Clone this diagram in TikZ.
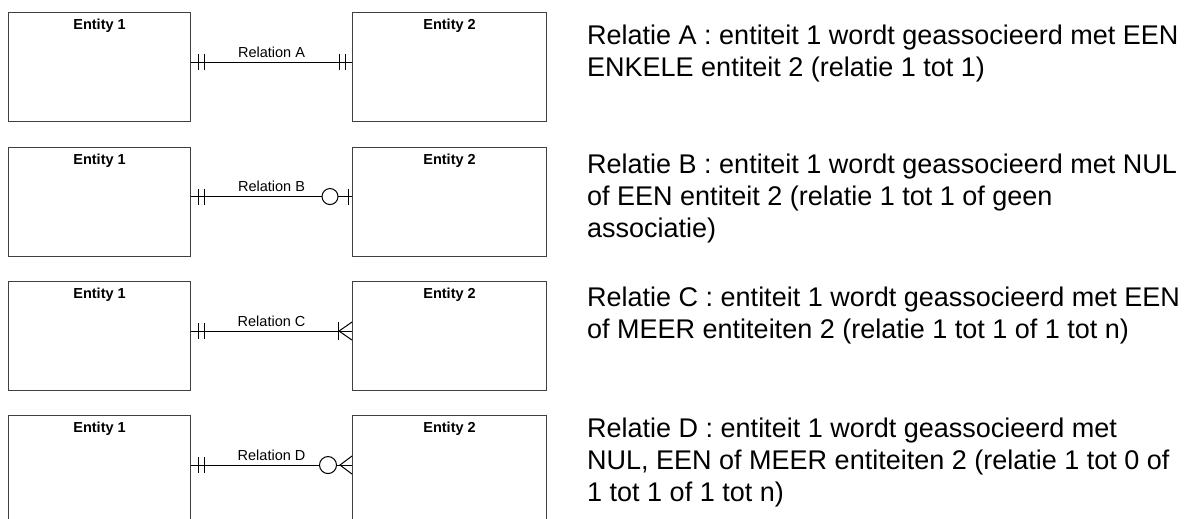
\documentclass[tikz,border=0pt]{standalone}
\usepackage{fontspec}
\setmainfont{Liberation Sans}
\usetikzlibrary{positioning}

\tikzset{
  entity/.style={draw=black!75, line width=1.1pt, minimum height=109pt, inner sep=0pt, anchor=north west},
  enttitle/.style={font=\bfseries\fontsize{14.5}{17}\selectfont, anchor=base, inner sep=0pt},
  rel/.style={line width=1pt},
  rellabel/.style={font=\fontsize{14.5}{17}\selectfont, anchor=base, inner sep=0pt, yshift=5pt},
  desc/.style={font=\fontsize{27}{32}\selectfont, align=left, anchor=north west, inner sep=0pt}
}

\begin{document}
\begin{tikzpicture}[x=1pt,y=-1pt]
    \useasboundingbox (0,0) rectangle (1189,519);
    \clip (0,0) rectangle (1189,519);

    % Entities, connectors and relation labels
    \foreach \r/\yt in {A/12,B/146.5,C/281,D/415} {
        \node[entity, minimum width=182pt] (e1\r) at (8,\yt) {};
        \node[entity, minimum width=194pt] (e2\r) at (352,\yt) {};
        \node[enttitle] (t1\r) at ([yshift=-17.5pt]e1\r.north) {Entity 1};
        \node[enttitle] (t2\r) at ([yshift=-17.5pt]e2\r.north) {Entity 2};
        \coordinate (a\r) at ([yshift=5pt]e1\r.east);
        \coordinate (b\r) at ([yshift=5pt]e2\r.west);
        \draw[rel] (a\r) -- node[rellabel] (l\r) {Relation \r} (b\r);
        % one and only one at entity 1
        \draw[rel] ([xshift=7pt]a\r) ++(0,-8) -- ++(0,16)
                   ([xshift=13pt]a\r) ++(0,-8) -- ++(0,16);
    }

    % Relation A: one and only one
    \draw[rel] ([xshift=-7pt]bA) ++(0,-8) -- ++(0,16)
               ([xshift=-13pt]bA) ++(0,-8) -- ++(0,16);

    % Relation B: zero or one
    \draw[rel, fill=white] ([xshift=-22pt]bB) circle[radius=8pt];
    \draw[rel] ([xshift=-4pt]bB) ++(0,-8) -- ++(0,16);

    % Relation C: one or many
    \draw[rel] ([xshift=-14pt]bC) ++(0,-9) -- ++(0,18);
    \draw[rel] ([yshift=9pt]bC) -- ([xshift=-13pt]bC) -- ([yshift=-9pt]bC);

    % Relation D: zero, one or many
    \draw[rel, fill=white] ([xshift=-24pt]bD) circle[radius=8.5pt];
    \draw[rel] ([yshift=9pt]bD) -- ([xshift=-12pt]bD) -- ([yshift=-9pt]bD);

    % Descriptions
    \node[desc] (dA) at (587,24.3) {Relatie A : entiteit 1 wordt geassocieerd met EEN\\ENKELE entiteit 2 (relatie 1 tot 1)};
    \node[desc] (dB) at (587,153.3) {Relatie B : entiteit 1 wordt geassocieerd met NUL\\of EEN entiteit 2 (relatie 1 tot 1 of geen\\associatie)};
    \node[desc] (dC) at (587,286.3) {Relatie C : entiteit 1 wordt geassocieerd met EEN\\of MEER entiteiten 2 (relatie 1 tot 1 of 1 tot n)};
    \node[desc] (dD) at (587,417.3) {Relatie D : entiteit 1 wordt geassocieerd met\\NUL, EEN of MEER entiteiten 2 (relatie 1 tot 0 of\\1 tot 1 of 1 tot n)};
\end{tikzpicture}
\end{document}
